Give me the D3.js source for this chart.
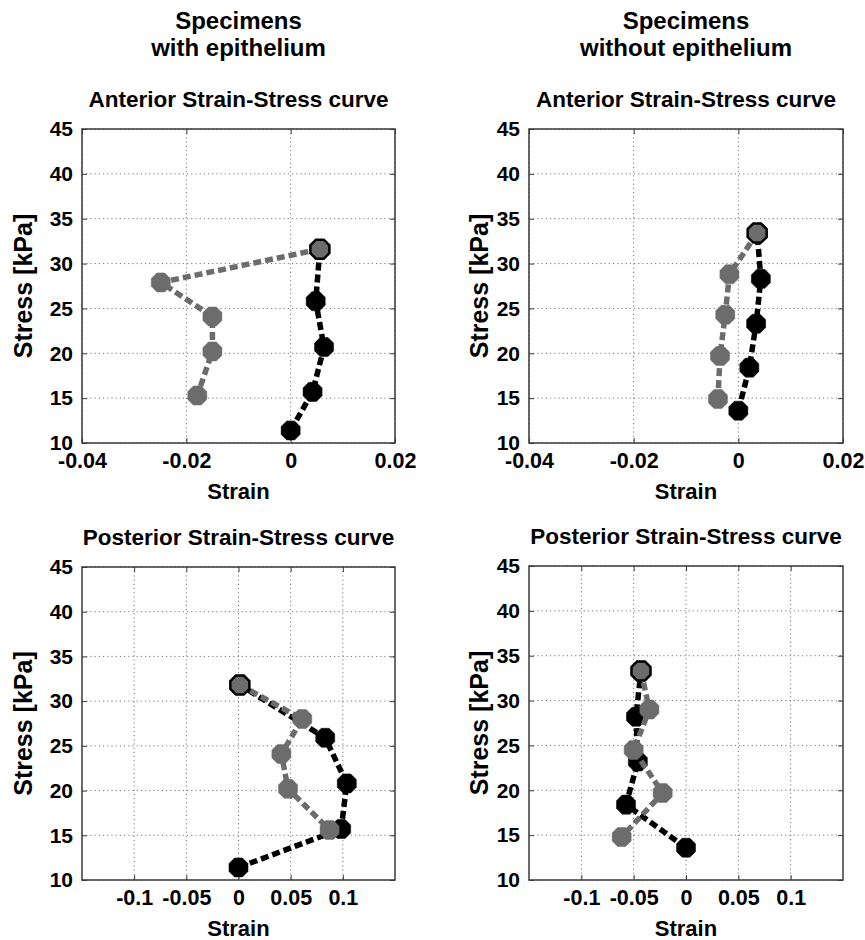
<!DOCTYPE html>
<html>
<head>
<meta charset="utf-8">
<script src="https://cdn.jsdelivr.net/npm/d3@7"></script>
<style>
  body { margin: 0; background: #fff; }
  text { font-family: "Liberation Sans", Arial, sans-serif; font-weight: bold; fill: #000; }
</style>
</head>
<body>
<div id="chart"></div>
<script>
// tick values
const stressTicks = [10, 15, 20, 25, 30, 35, 40, 45];
const anteriorStrainTicks = [-0.04, -0.02, 0, 0.02];
const posteriorStrainTicks = [-0.1, -0.05, 0, 0.05, 0.1];

// column headers
const columnHeaders = [["Specimens", "with epithelium"], ["Specimens", "without epithelium"]];

// anterior, with epithelium
const antWithLoadStrain = [0, 0.0042, 0.0064, 0.0048, 0.0056];
const antWithLoadStress = [11.4, 15.7, 20.7, 25.8, 31.6];
const antWithUnloadStrain = [0.0056, -0.0249, -0.0150, -0.0150, -0.0179];
const antWithUnloadStress = [31.6, 27.9, 24.1, 20.2, 15.3];

// anterior, without epithelium
const antWithoutLoadStrain = [0, 0.0021, 0.0034, 0.0043, 0.0036];
const antWithoutLoadStress = [13.6, 18.4, 23.3, 28.3, 33.4];
const antWithoutUnloadStrain = [0.0036, -0.0017, -0.0025, -0.0035, -0.0039];
const antWithoutUnloadStress = [33.4, 28.8, 24.3, 19.7, 14.9];

// posterior, with epithelium
const postWithLoadStrain = [0, 0.0984, 0.1038, 0.0831, 0.0013];
const postWithLoadStress = [11.4, 15.7, 20.8, 25.9, 31.8];
const postWithUnloadStrain = [0.0013, 0.0611, 0.0411, 0.0475, 0.0873];
const postWithUnloadStress = [31.8, 28.0, 24.1, 20.2, 15.6];

// posterior, without epithelium
const postWithoutLoadStrain = [0, -0.0573, -0.046, -0.0478, -0.043];
const postWithoutLoadStress = [13.6, 18.4, 23.2, 28.2, 33.3];
const postWithoutUnloadStrain = [-0.043, -0.035, -0.050, -0.0223, -0.0615];
const postWithoutUnloadStress = [33.3, 29.0, 24.5, 19.7, 14.8];

const zip = (xs, ys) => xs.map((x, i) => ({ strain: x, stress: ys[i] }));

const panels = [
  { title: "Anterior Strain-Stress curve", left: 82, right: 395, top: 129, bottom: 443,
    xDomain: [-0.04, 0.02], xTicks: anteriorStrainTicks, ylabOff: 50,
    load: zip(antWithLoadStrain, antWithLoadStress), unload: zip(antWithUnloadStrain, antWithUnloadStress) },
  { title: "Anterior Strain-Stress curve", left: 529, right: 843, top: 129, bottom: 443,
    xDomain: [-0.04, 0.02], xTicks: anteriorStrainTicks, ylabOff: 41,
    load: zip(antWithoutLoadStrain, antWithoutLoadStress), unload: zip(antWithoutUnloadStrain, antWithoutUnloadStress) },
  { title: "Posterior Strain-Stress curve", left: 82, right: 395, top: 567, bottom: 880,
    xDomain: [-0.15, 0.15], xTicks: posteriorStrainTicks, ylabOff: 50,
    load: zip(postWithLoadStrain, postWithLoadStress), unload: zip(postWithUnloadStrain, postWithUnloadStress) },
  { title: "Posterior Strain-Stress curve", left: 529, right: 843, top: 566, bottom: 880,
    xDomain: [-0.15, 0.15], xTicks: posteriorStrainTicks, ylabOff: 41,
    load: zip(postWithoutLoadStrain, postWithoutLoadStress), unload: zip(postWithoutUnloadStrain, postWithoutUnloadStress) }
];

const width = 865, height = 940;
const gray = "#6c6c6c";
const gridColor = "#777";
const boxColor = "#3a3a3a";

const svg = d3.select("#chart")
  .append("svg")
  .attr("width", width)
  .attr("height", height);

// column headers
[panels[0], panels[1]].forEach((p, i) => {
  const cx = (p.left + p.right) / 2;
  columnHeaders[i].forEach((line, j) => {
    svg.append("text")
      .attr("x", cx)
      .attr("y", 29 + j * 27)
      .attr("text-anchor", "middle")
      .attr("font-size", "24px")
      .text(line);
  });
});

// octagon marker
function octagon(r) {
  const pts = d3.range(8).map(k => {
    const a = Math.PI / 8 + k * Math.PI / 4;
    return [r * Math.cos(a), r * Math.sin(a)];
  });
  return "M" + pts.map(p => p.join(",")).join("L") + "Z";
}

panels.forEach(p => {
  const x = d3.scaleLinear().domain(p.xDomain).range([p.left, p.right]);
  const y = d3.scaleLinear().domain([10, 45]).range([p.bottom, p.top]);
  const g = svg.append("g");

  // grid
  g.selectAll(".vgrid")
    .data(p.xTicks)
    .enter()
    .append("line")
    .attr("x1", d => x(d)).attr("x2", d => x(d))
    .attr("y1", p.top).attr("y2", p.bottom)
    .attr("stroke", gridColor)
    .attr("stroke-width", 1)
    .attr("stroke-dasharray", "1.2,3");

  g.selectAll(".hgrid")
    .data(stressTicks)
    .enter()
    .append("line")
    .attr("x1", p.left).attr("x2", p.right)
    .attr("y1", d => y(d)).attr("y2", d => y(d))
    .attr("stroke", gridColor)
    .attr("stroke-width", 1)
    .attr("stroke-dasharray", "1.2,3");

  // axes (ticks point inward)
  const xAxis = g.append("g")
    .attr("transform", `translate(0,${p.bottom})`)
    .call(d3.axisBottom(x).tickValues(p.xTicks).tickSize(-5).tickPadding(10).tickFormat(d => String(d)));
  const yAxis = g.append("g")
    .attr("transform", `translate(${p.left},0)`)
    .call(d3.axisLeft(y).tickValues(stressTicks).tickSize(-5).tickPadding(9).tickFormat(d => String(d)));
  g.append("g")
    .attr("transform", `translate(0,${p.top})`)
    .call(d3.axisTop(x).tickValues(p.xTicks).tickSize(-5).tickFormat(""));
  g.append("g")
    .attr("transform", `translate(${p.right},0)`)
    .call(d3.axisRight(y).tickValues(stressTicks).tickSize(-5).tickFormat(""));

  g.selectAll(".domain").remove();
  g.selectAll(".tick line").attr("stroke", boxColor).attr("stroke-width", 1);
  xAxis.selectAll("text").attr("font-size", "21.5px").attr("font-family", "Liberation Sans, Arial").attr("font-weight", "bold").attr("fill", "#000");
  yAxis.selectAll("text").attr("font-size", "21px").attr("font-family", "Liberation Sans, Arial").attr("font-weight", "bold").attr("fill", "#000");

  g.append("rect")
    .attr("x", p.left).attr("y", p.top)
    .attr("width", p.right - p.left).attr("height", p.bottom - p.top)
    .attr("fill", "none")
    .attr("stroke", boxColor)
    .attr("stroke-width", 1.5);

  // titles and labels
  g.append("text")
    .attr("x", (p.left + p.right) / 2)
    .attr("y", p.top - 22)
    .attr("text-anchor", "middle")
    .attr("font-size", "22.5px")
    .text(p.title);

  g.append("text")
    .attr("x", (p.left + p.right) / 2)
    .attr("y", p.bottom + 56)
    .attr("text-anchor", "middle")
    .attr("font-size", "22px")
    .text("Strain");

  g.append("text")
    .attr("transform", "rotate(-90)")
    .attr("x", -(p.top + p.bottom) / 2)
    .attr("y", p.left - p.ylabOff)
    .attr("text-anchor", "middle")
    .attr("font-size", "25px")
    .text("Stress [kPa]");

  const line = d3.line()
    .x(d => x(d.strain))
    .y(d => y(d.stress));

  // loading curve (black), then unloading curve (gray) on top
  [[p.load, "#000"], [p.unload, gray]].forEach(([data, color], s) => {
    g.append("path")
      .datum(data)
      .attr("fill", "none")
      .attr("stroke", color)
      .attr("stroke-width", 5.5)
      .attr("stroke-dasharray", "8,4")
      .attr("d", line);

    g.selectAll(".m" + s)
      .data(data)
      .enter()
      .append("path")
      .attr("transform", d => `translate(${x(d.strain)},${y(d.stress)})`)
      .attr("d", octagon(10.3))
      .attr("fill", color)
      .attr("stroke", (d, i) => (s === 1 && i === 0) ? "#000" : color)
      .attr("stroke-width", (d, i) => (s === 1 && i === 0) ? 2.5 : 0.5);
  });
});
</script>
</body>
</html>
